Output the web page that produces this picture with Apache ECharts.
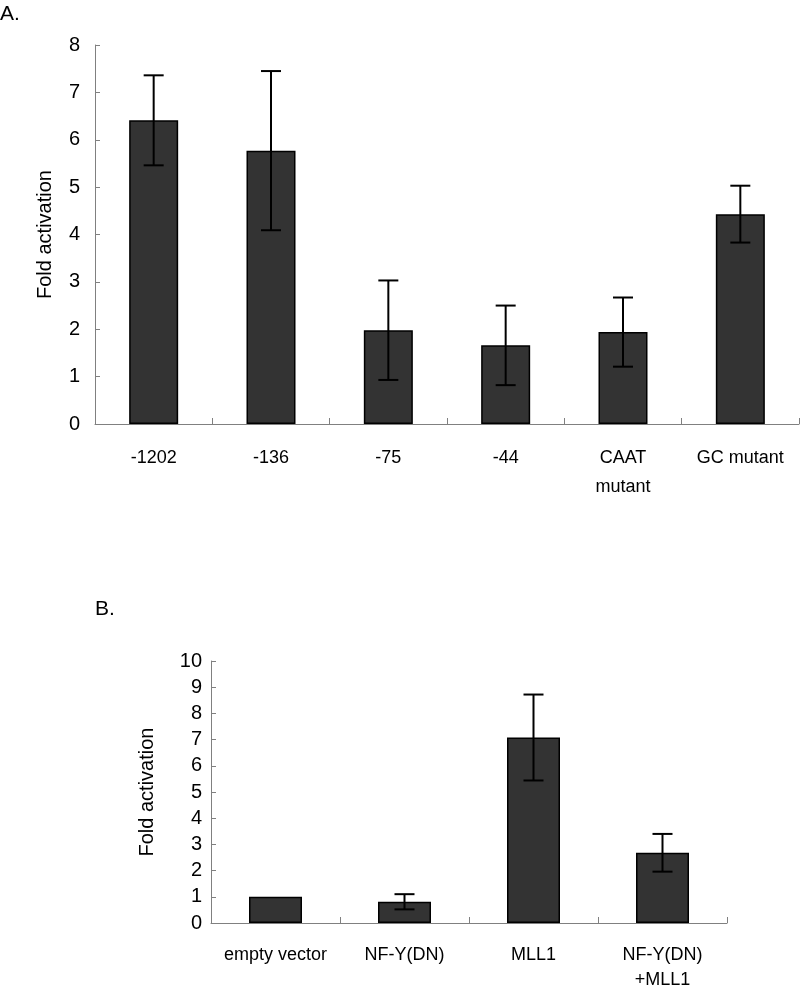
<!DOCTYPE html>
<html><head><meta charset="utf-8">
<script src="https://cdn.jsdelivr.net/npm/echarts@6/dist/echarts.min.js"></script>
<style>html,body{margin:0;padding:0;background:#fff}#c{width:800px;height:987px}</style>
</head><body><div id="c"></div>
<script>
const categoriesA = ['-1202', '-136', '-75', '-44', 'CAAT\nmutant', 'GC mutant'];
const valuesA = [6.41, 5.77, 1.98, 1.66, 1.94, 4.43];
const errorsA = [0.95, 1.68, 1.05, 0.84, 0.73, 0.60];
const ticksA = [0, 1, 2, 3, 4, 5, 6, 7, 8];

const categoriesB = ['empty vector', 'NF-Y(DN)', 'MLL1', 'NF-Y(DN)\n+MLL1'];
const valuesB = [1.0, 0.81, 7.08, 2.68];
const errorsB = [0, 0.29, 1.64, 0.72];
const ticksB = [0, 1, 2, 3, 4, 5, 6, 7, 8, 9, 10];

const FONT = 'Liberation Sans, Arial, sans-serif';
const chart = echarts.init(document.getElementById('c'), null, {renderer: 'canvas'});

function errRender(errs) {
  return function (params, api) {
    const i = api.value(0);
    const v = api.value(1);
    const e = errs[i];
    if (!e) return null;
    const top = api.coord([i, v + e]);
    const bot = api.coord([i, v - e]);
    const cap = 10;
    const st = {stroke: '#000', lineWidth: 2};
    return {
      type: 'group',
      children: [
        {type: 'line', shape: {x1: top[0], y1: top[1], x2: bot[0], y2: bot[1]}, style: st},
        {type: 'line', shape: {x1: top[0] - cap, y1: top[1], x2: top[0] + cap, y2: top[1]}, style: st},
        {type: 'line', shape: {x1: bot[0] - cap, y1: bot[1], x2: bot[0] + cap, y2: bot[1]}, style: st}
      ]
    };
  };
}

const axisLineStyle = {color: '#808080', width: 1};
function yAxisCfg(gi, ticks, margin) {
  return {
    gridIndex: gi, type: 'value', min: ticks[0], max: ticks[ticks.length - 1], interval: 1,
    name: 'Fold activation', nameLocation: 'middle', nameRotate: 90,
    nameTextStyle: {fontFamily: FONT, fontSize: 20, color: '#000'},
    axisLine: {show: true, lineStyle: axisLineStyle},
    axisTick: {show: true, inside: true, length: 5, lineStyle: axisLineStyle},
    axisLabel: {fontFamily: FONT, fontSize: 20, color: '#000', margin: margin},
    splitLine: {show: false}
  };
}
function xAxisCfg(gi, cats, margin, lh) {
  return {
    gridIndex: gi, type: 'category', data: cats,
    axisLine: {show: true, lineStyle: axisLineStyle},
    axisTick: {show: true, inside: true, length: 6, lineStyle: axisLineStyle},
    axisLabel: {fontFamily: FONT, fontSize: 18, color: '#000', margin: margin, lineHeight: lh, interval: 0}
  };
}

const yA = yAxisCfg(0, ticksA, 15); yA.nameGap = 40;
const yB = yAxisCfg(1, ticksB, 9); yB.nameGap = 54;

chart.setOption({
  animation: false,
  backgroundColor: '#fff',
  title: [
    {text: 'A.', left: 0, top: 4, padding: 0, textStyle: {fontFamily: FONT, fontSize: 21, fontWeight: 'normal', color: '#000'}},
    {text: 'B.', left: 95, top: 599, padding: 0, textStyle: {fontFamily: FONT, fontSize: 21, fontWeight: 'normal', color: '#000'}}
  ],
  grid: [
    {left: 95, right: 1, top: 45, bottom: 563, containLabel: false, outerBoundsMode: 'none'},
    {left: 211, right: 73, top: 661, bottom: 64, containLabel: false, outerBoundsMode: 'none'}
  ],
  xAxis: [xAxisCfg(0, categoriesA, 20, 29), xAxisCfg(1, categoriesB, 20, 25)],
  yAxis: [yA, yB],
  series: [
    {type: 'bar', xAxisIndex: 0, yAxisIndex: 0, data: valuesA, barWidth: 49,
     itemStyle: {color: '#333333', borderColor: '#000', borderWidth: 1.5}},
    {type: 'custom', xAxisIndex: 0, yAxisIndex: 0, renderItem: errRender(errorsA),
     data: valuesA.map((v, i) => [i, v]), z: 5},
    {type: 'bar', xAxisIndex: 1, yAxisIndex: 1, data: valuesB, barWidth: 53,
     itemStyle: {color: '#333333', borderColor: '#000', borderWidth: 1.5}},
    {type: 'custom', xAxisIndex: 1, yAxisIndex: 1, renderItem: errRender(errorsB),
     data: valuesB.map((v, i) => [i, v]), z: 5}
  ]
});
</script></body></html>
